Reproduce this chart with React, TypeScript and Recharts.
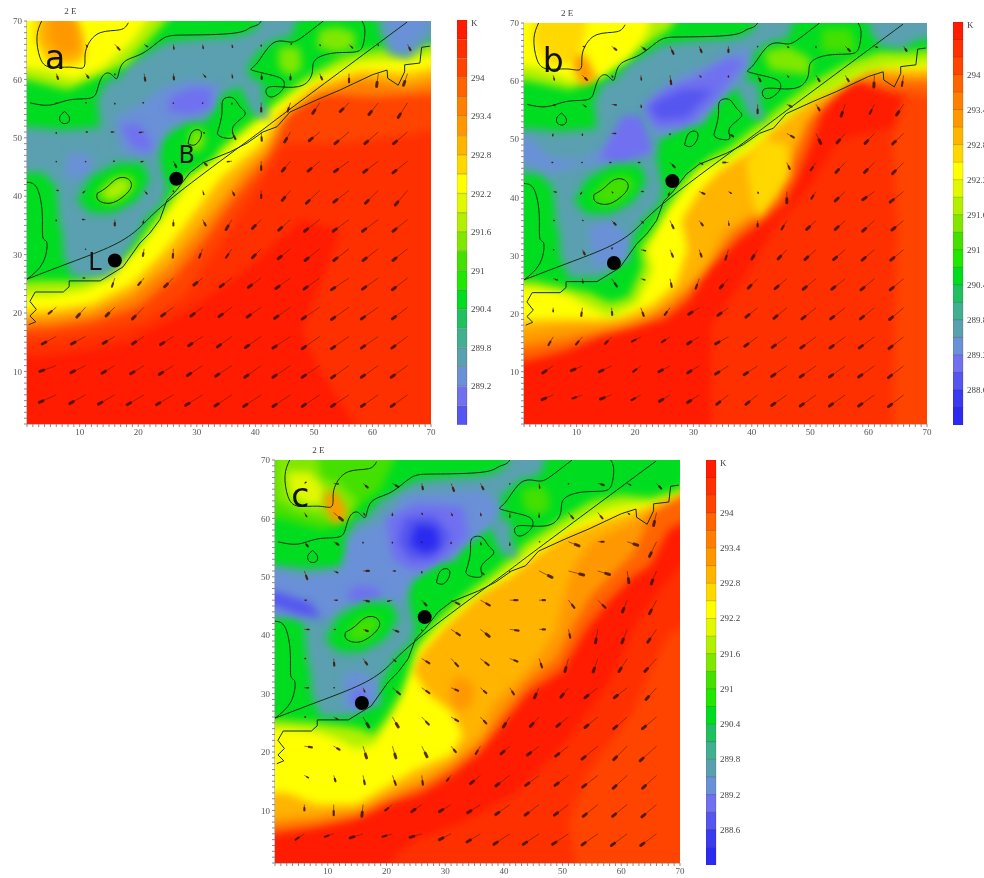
import React from "react";
import {
  BarChart,
  Bar,
  Cell,
  Curve,
  ReferenceLine,
  Scatter,
  ScatterChart,
  XAxis,
  YAxis,
} from "recharts";

type Pt = number[];
type Layer = { t: number; pts: Pt[] };

// colour scale, top band first (K)
const bandValues = [294.6, 294.3, 294, 293.7, 293.4, 293.1, 292.8, 292.5, 292.2, 291.9, 291.6, 291.3, 291, 290.7, 290.4, 290.1, 289.8, 289.5, 289.2, 288.9, 288.6, 288.3, 288];
const bandColors = ["#ff1c00", "#ff3000", "#ff4400", "#ff6400", "#ff8000", "#ff9800", "#ffb400", "#ffd800", "#ffff00", "#e0f800", "#b0f000", "#80e800", "#44e000", "#20e800", "#00dd20", "#20c060", "#40b090", "#5aa0b0", "#6a90d8", "#7070f0", "#5555f0", "#3a3af0", "#2a2af0"];
const legendLabels = ["294", "293.4", "292.8", "292.2", "291.6", "291", "290.4", "289.8", "289.2", "288.6"];
const axisLabels = [10, 20, 30, 40, 50, 60, 70];
const unitTicks = Array.from({ length: 70 }, (_, i) => i + 1);

// wind grid, tails every 5 units
const gridX = [6, 11, 16, 21, 26, 31, 36, 41, 46, 51, 56, 61, 66];
const gridY = [66, 61, 56, 51, 46, 41, 36, 31, 26, 21, 16, 11, 6];

const windA = [
  [[0, 0], [0.3, -0.4], [0.8, -0.9], [0.6, -0.4], [0.1, -0.8], [0.1, -0.7], [0.1, -0.5], [0, -0.3], [0.2, 0.1], [0.1, -0.2], [0.6, -0.6], [0, -0.2], [0.5, -1]],
  [[0.3, -0.9], [0.5, -0.7], [0, -0.2], [0.2, -1.2], [0.1, -1], [0.5, -0.6], [0.1, -0.7], [0.1, -0.9], [0, -1], [0.4, -1], [0, -1.5], [-0.3, -2.2], [-0.7, -2]],
  [[0, -0.1], [0.1, 0], [0, -0.2], [-0.2, 0], [0, -0.1], [0, -0.1], [0, -0.2], [0, -1.5], [-0.5, -1.5], [-1.2, -1.8], [-1.5, -1.5], [-1.6, -2], [-1.6, -2.5]],
  [[0, -0.2], [0.3, 0], [-0.6, 0], [-0.8, -0.1], [0, 0], [0.3, -0.2], [0.6, -1.2], [0.1, -1.5], [-1, -1.7], [-1.8, -1.5], [-2.4, -2], [-2.3, -2], [-2.4, -2]],
  [[0, -0.1], [0, -0.1], [-0.2, 0], [-0.5, -0.1], [0.5, -1], [0.7, -0.7], [-0.8, -0.1], [0, -1.5], [-1.4, -1.7], [-2, -1.7], [-2.5, -1.8], [-2.5, -1.9], [-2.5, -2]],
  [[0.3, 0], [-0.4, -0.4], [0, 0], [0.5, -0.6], [0, -0.2], [0.2, -0.7], [0.4, -0.8], [0, -1.3], [-1.4, -1.7], [-2.3, -2.2], [-2.6, -2], [-2.2, -2.2], [-2.1, -2.5]],
  [[0, -0.2], [-0.5, 0], [0, -1], [-0.2, -0.6], [0, -1], [0.5, -1], [-1, -1.7], [-1.5, -1.5], [-2, -1.8], [-2.6, -2], [-2.7, -2], [-2.7, -2], [-2.5, -2]],
  [[0, 0], [0, -0.1], [0, 0], [-0.2, -1.2], [-0.1, -1.5], [-0.6, -1.5], [-1, -1.5], [-1.5, -1.5], [-2.1, -1.7], [-2.5, -2], [-2.6, -2], [-2.6, -2], [-2.5, -2]],
  [[0, 0], [-0.4, 0], [-0.5, -1.5], [-1, -1.2], [-1.5, -1.5], [-1.5, -1.2], [-2, -1.5], [-2.2, -1.6], [-2.5, -1.8], [-2.7, -1.9], [-3, -2], [-2.7, -1.9], [-2.6, -2]],
  [[-1.3, -1.1], [-1.5, -1.7], [-1.5, -1.5], [-2, -2], [-2, -1.5], [-2, -1.5], [-2.2, -1.6], [-2.4, -1.7], [-2.7, -1.9], [-3, -2], [-3, -2.1], [-2.9, -2], [-2.6, -2]],
  [[-2.4, -1.3], [-2.4, -1.3], [-2, -1.2], [-2, -1.3], [-2.2, -1.4], [-2.4, -1.6], [-2.5, -1.8], [-2.7, -1.9], [-3, -2], [-3, -2.1], [-3, -2.1], [-2.9, -2], [-2.7, -2]],
  [[-2.8, -1], [-2.5, -1.2], [-2.2, -1.3], [-2.3, -1.4], [-2.4, -1.5], [-2.6, -1.7], [-2.8, -1.8], [-2.8, -2], [-3, -2], [-3, -2], [-3, -2.1], [-2.9, -2], [-2.8, -2]],
  [[-2.9, -1.3], [-2.7, -1.5], [-2.8, -1.6], [-2.9, -1.7], [-2.9, -1.7], [-2.9, -1.8], [-2.9, -1.9], [-3, -2], [-3, -2], [-3, -2], [-3, -2], [-2.9, -2], [-2.8, -2]],
];

const windB = [
  [[0, 0], [0.4, -0.1], [0.8, -0.6], [0.8, -0.6], [0.6, -1.3], [0.4, -1], [0, -1], [0, -0.1], [0.3, -0.2], [0, -0.2], [0.8, -0.8], [0.5, -0.2], [0.5, -0.8]],
  [[0.2, -0.8], [0.8, -0.8], [0.2, -0.3], [0.1, -0.8], [0.2, -1.5], [0.3, -0.3], [0, -0.3], [0.5, -1], [0.3, -0.3], [0.6, -1], [0.6, -1], [-0.1, -2], [-0.3, -1.8]],
  [[0.3, -0.2], [0.6, -0.4], [0.8, -0.1], [0.1, -0.5], [0, 0], [0, 0], [0, 0], [0, -1.5], [0.8, -0.4], [0.6, -1], [-0.7, -2], [-0.8, -1.6], [-1.2, -1.8]],
  [[-0.1, -0.4], [0, -0.3], [0.7, 0], [0, 0], [0, -0.2], [0, 0], [0.8, -0.5], [0, 0], [1.2, -0.7], [0.8, -1.7], [-1.4, -1.6], [-1.6, -1.7], [-1.9, -1.8]],
  [[-0.2, 0], [-0.1, 0], [-0.3, 0], [-0.4, 0], [0.8, -0.8], [0.6, -0.3], [-0.9, 0], [0, 0], [0.5, -1.1], [-0.9, -1.3], [-1.6, -1.7], [-1.7, -1.7], [-1.9, -1.9]],
  [[0.5, -0.1], [-0.3, -0.4], [0.2, -0.2], [0.4, 0], [-0.3, -0.6], [0.9, -0.4], [0.5, -0.3], [0.1, -0.3], [0, -1.9], [-0.8, -1.2], [-1.7, -1.6], [-2, -1.4], [-2.3, -1.8]],
  [[0.2, 0], [0.1, 0], [0.7, -0.7], [0.4, -0.4], [0.6, -1.3], [0.6, -0.8], [0.1, -0.8], [0, -1], [-0.9, -1.5], [-1.6, -1.5], [-1.7, -1.5], [-2, -1.8], [-2, -1.6]],
  [[0.1, 0], [0.4, -0.8], [0.1, 0.3], [0.8, -0.2], [0.5, -1.2], [0.4, -1.2], [-0.5, -1.7], [-1, -1.6], [-1.5, -1.6], [-1.9, -1.7], [-2, -1.7], [-2.1, -1.8], [-2.2, -1.8]],
  [[0.7, -0.2], [0.1, -0.7], [0.9, -1.3], [0.7, -0.2], [0.3, -1.4], [-0.6, -1.7], [-1.4, -1.6], [-1.6, -1.6], [-2, -1.7], [-2.2, -1.8], [-2.3, -1.8], [-2.3, -1.9], [-2.3, -1.9]],
  [[0, -0.7], [-0.2, -1.4], [0.1, -1.2], [0.5, -1.4], [-0.9, -1.2], [-1.8, -1.1], [-1.8, -1.3], [-2, -1.6], [-2.2, -1.8], [-2.4, -1.9], [-2.5, -1.9], [-2.4, -1.9], [-2.4, -2]],
  [[-0.8, -1.4], [-1.1, -1.3], [-1.1, -1.2], [-1.5, -0.8], [-1.4, -0.9], [-2, -1.2], [-2.2, -1.2], [-2.2, -1.6], [-2.5, -1.8], [-2.6, -1.9], [-2.6, -1.9], [-2.6, -1.9], [-2.5, -2]],
  [[-1.8, -1.2], [-1.9, -0.8], [-2.1, -1], [-1.3, -1], [-1.9, -1], [-2, -1.2], [-2.2, -1.4], [-2.3, -1.5], [-2.6, -1.8], [-2.7, -1.9], [-2.7, -1.9], [-2.7, -1.9], [-2.6, -2]],
  [[-1.9, -0.8], [-1.7, -0.6], [-1.9, -0.7], [-1.6, -0.9], [-1.8, -1.1], [-2, -1.3], [-2, -1.6], [-2, -1.6], [-2.6, -1.8], [-2.7, -1.9], [-2.7, -1.9], [-2.7, -1.9], [-2.6, -2]],
];

const windC = [
  [[0.3, 0.2], [0.8, -0.1], [0.8, -0.7], [1, -0.6], [0.2, -1], [0.5, -1.3], [0.5, -1], [0, -0.1], [0.1, -0.8], [0, -0.1], [1, -0.3], [0.6, -0.3], [0.8, -0.9]],
  [[0.4, -0.7], [1.5, -1.3], [0.3, -0.4], [0, -0.5], [0.1, -0.3], [0.2, -0.5], [0.1, -0.5], [0, -0.8], [0, -0.8], [0.8, -1], [0.8, -1], [0.4, -0.3], [-0.5, -2.2]],
  [[0.6, -0.8], [0.8, -0.5], [0, -0.2], [0, -0.2], [0, -0.1], [0, -0.3], [0.1, -0.5], [0, -0.6], [0.1, 0], [1.8, -0.7], [1, 0], [1.8, -0.6], [-1.2, -2.5]],
  [[0.5, -1.4], [0.7, -0.3], [1, 0], [0.5, 0], [0, -0.3], [0, 0], [0.6, -0.6], [0, -0.1], [2.2, -1.1], [2.6, -0.7], [2, -0.6], [0.3, -2], [-0.9, -2.2]],
  [[0.3, 0], [0.6, 0], [1, -0.2], [-0.8, -0.2], [0.8, -0.9], [1.4, -0.7], [1.6, -0.9], [1.3, 0], [1, 0], [1, -1.3], [1.3, -1.3], [-0.8, -2], [-1.2, -2.3]],
  [[0.8, 0], [0.3, 0], [0.8, -0.3], [1, -0.4], [0, -0.2], [1.5, -1], [1.5, -1.2], [1.5, -0.2], [1, 0], [0.3, -1.4], [-0.4, -2.3], [-0.9, -2.3], [-1.5, -2.2]],
  [[0.2, 0], [0.1, -1.2], [0.7, -1], [0.6, -0.5], [1.3, -0.8], [1.2, -1.3], [1.4, -1.1], [1.3, -0.5], [0.5, -1.5], [-0.6, -2.2], [-0.8, -2.3], [-1.4, -2.2], [-2, -2.2]],
  [[0.7, 0], [0.1, 0], [0.3, -0.7], [1.3, -1.1], [1.3, -0.9], [1.2, -0.5], [1, -0.9], [0.7, -1.1], [-0.8, -1.7], [-1.3, -1.6], [-2.2, -1.7], [-2.2, -1.7], [-1.8, -2]],
  [[0.2, 0], [0.7, -0.4], [1, -1.7], [1, -1.7], [1.2, -1.3], [1.2, -0.7], [1, -1.1], [-1.1, -1.7], [-1.5, -1.6], [-2, -1.6], [-2.2, -1.8], [-2.3, -2], [-2.4, -2]],
  [[1.3, -0.2], [1, -0.6], [0.6, -2], [0.6, -2], [0.9, -1.8], [0.8, -1], [-0.8, -1.3], [-1.5, -1.3], [-2, -1.5], [-2.2, -1.7], [-2.7, -2.2], [-2.3, -2.3], [-2.8, -2.5]],
  [[0.7, -0.4], [0.3, -1], [0.3, -1.5], [0.6, -1.6], [0.2, -1.6], [-0.7, -0.9], [-1.7, -1.4], [-2.4, -1.8], [-2.3, -1.7], [-2.3, -1.7], [-2.6, -2], [-2.4, -2.2], [-2.4, -2.2]],
  [[0, -1], [0, -1.8], [-0.2, -2], [-1.2, -1], [-1.7, -1.2], [-2, -1.2], [-2.2, -1.4], [-2.4, -1.7], [-2.4, -1.8], [-2.4, -1.8], [-2.5, -2], [-2.5, -2], [-2.5, -2.1]],
  [[-1.5, -1], [-1.5, -0.5], [-2.2, -0.7], [-1.7, -0.5], [-2, -0.6], [-2, -1], [-2.3, -1.4], [-2.7, -1.8], [-2.7, -1.8], [-2.7, -1.8], [-2.7, -1.9], [-2.7, -2], [-2.7, -2]],
];

// land and lake outlines, same in all three panels
const outlines: Pt[][] = [
  [[1, 25.8], [8.3, 28.6], [15.7, 31.6], [20.3, 34.7], [26, 39.9], [39, 49.7], [45.9, 54.9], [65.9, 69.8]],
  [[1.3, 18], [2.5, 18.5], [1.5, 19.5], [2.6, 20.6], [1.5, 22], [2.4, 23.6], [7.2, 23.6], [8.2, 24.5], [8.2, 25.5], [13.5, 25.5], [17.4, 27.9], [20.3, 32], [22, 33.7], [23.7, 36], [24.9, 39.3], [26.5, 41], [28.8, 44], [31, 45.7], [35.7, 47.6], [38.6, 49.1], [41.3, 51], [43.7, 51.9], [45.9, 54.4], [50.5, 56.5], [54.5, 58.2], [60, 60.8], [62.5, 61.6], [62.6, 60.2], [64.4, 59], [65.5, 61.3], [65.5, 62.5], [68.1, 62.8], [68.4, 65.5], [69.8, 65.7]],
  [[1.5, 56], [4.9, 55.6], [8.3, 56.5], [11.8, 56.8], [13, 58.2], [13.8, 60.4], [15.2, 61], [16.4, 60.2], [17.4, 62.8], [20.8, 64.5], [24.2, 67], [28.3, 67.6], [36.2, 67.9], [39, 68.8], [40.3, 69.3], [41, 70]],
  [[3.5, 70], [2.7, 67.3], [3.2, 63.8], [4.9, 62.1], [8.3, 62.1], [10.6, 62], [10.9, 63.8], [11.4, 65.9], [13.5, 68], [16.9, 68.5], [18.3, 69.7]],
  [[7.4, 54.5], [8.2, 53.6], [8, 52.6], [6.9, 52.6], [6.6, 53.6], [7.4, 54.5]],
  [[13, 40.5], [14.7, 41.6], [16.4, 43], [18.2, 43], [18.8, 41.6], [17.4, 39.9], [15.2, 38.8], [13.2, 39.3], [13, 40.5]],
  [[28.5, 49], [29.2, 51], [30.5, 51.3], [30.7, 50.1], [29.7, 48.8], [28.5, 49]],
  [[33.5, 50.8], [34.3, 54.2], [34.5, 56.5], [36.2, 56.8], [37.4, 55.3], [38.2, 53.9], [36.2, 51.9], [36.2, 50.1], [34.3, 50.1], [33.5, 50.8]],
  [[51.6, 70], [48.1, 67.3], [45.9, 66.4], [43, 66.2], [40.3, 62.8], [39.4, 61.6], [42.5, 60.8], [44.7, 59.9], [44.6, 58.2], [42.5, 57], [42, 58.5], [44.7, 58.7], [48.1, 59], [49.7, 61.1], [50.2, 63.3], [53.3, 64.5], [57, 64.7], [58.4, 65.9], [58.7, 68.5], [58.2, 70]],
  [[1, 42.4], [2.7, 41.4], [3.6, 37.1], [3.7, 33], [4.4, 32], [3.7, 28.6], [1, 25.8]],
];

// cool basin shared by the panels
const basin: Pt[] = [[-6, 52], [2, 51.8], [7.2, 51.3], [13.5, 51.8], [13, 56.5], [14.7, 60], [16.4, 60], [18.6, 62.8], [21.5, 64.5], [24.9, 66.4], [30.5, 67], [36.2, 67.3], [39, 68], [40.8, 69.5], [41, 76], [47, 76], [47, 69.6], [46, 67.3], [43, 66.7], [40.3, 64.5], [38.6, 62], [39, 60.4], [41.3, 59.4], [41.3, 56.5], [42.5, 53], [39.5, 54], [37.4, 58.7], [33.5, 57], [31.7, 52.5], [28.3, 52.5], [24.2, 50], [23.7, 46.7], [24.2, 44.5], [24.9, 41.6], [24.2, 38.8], [21.5, 36.4], [19.1, 32], [15.7, 26.8], [13.5, 26.1], [8.7, 26.1], [7.2, 30], [7, 34.2], [6.6, 34.7], [6, 41.6], [3.7, 44], [1.5, 44], [-6, 44]];
const greenIsland: Pt[] = [[9.5, 39.3], [11.8, 43.3], [16.4, 45.7], [20.8, 45.7], [22, 42.8], [19.8, 39.3], [15.7, 37.1], [11.8, 37.1]];
const islandCore: Pt[] = [[13.3, 40.5], [16.4, 43], [18.5, 42.8], [18.5, 41], [15.5, 39.2]];

const layersA: Layer[] = [
  { t: 294.6, pts: [[-6, -6], [76, -6], [76, 80], [-6, 80]] },
  { t: 294.3, pts: [[-6, 12], [8, 13], [18, 15], [28, 20], [38, 27], [48, 36], [54.5, 34], [48, 17], [50.5, 11], [57, 1], [60, -6], [76, -6], [76, 80], [-6, 80]] },
  { t: 294, pts: [[-6, 15], [5, 15.5], [12, 16.5], [21, 18.5], [28, 23], [34, 32], [40, 41], [45, 49], [55, 49], [76, 52], [76, 80], [-6, 80]] },
  { t: 293.4, pts: [[-6, 17], [5, 17.5], [12, 18.5], [20, 21], [26, 26], [31, 32], [36, 39], [41, 45], [44, 50], [46, 55], [52, 57.5], [60, 57], [76, 58], [76, 80], [-6, 80]] },
  { t: 292.8, pts: [[-6, 18.5], [5, 19], [12, 20], [19, 23], [25, 28], [30, 34], [34, 39], [38, 44], [42, 48], [44, 53], [50, 57.5], [58, 60], [66, 59], [76, 61], [76, 80], [-6, 80]] },
  { t: 292.2, pts: [[-6, 20], [5, 20.5], [12, 21.5], [19, 25], [24, 30], [28, 35], [31, 39], [34, 43], [38, 46.5], [41, 49], [44, 54], [50, 59], [58, 61.5], [66, 61], [76, 63], [76, 80], [-6, 80]] },
  { t: 291.6, pts: [[-6, 23], [5, 23], [11, 24], [15, 26], [20, 31], [24, 36], [27, 40], [30, 44], [34, 47], [38, 51], [44, 56], [50, 60], [58, 63], [66, 63.5], [76, 65], [76, 80], [-6, 80]] },
  { t: 290.4, pts: [[-6, 25], [3, 25.5], [9, 25.5], [14, 27], [19, 31], [22, 35], [25, 39], [28, 43.5], [32, 46.5], [36, 50], [42, 55], [48, 60], [55, 64], [60, 65], [66, 66], [76, 67], [76, 80], [-6, 80]] },
  { t: 289.5, pts: basin },
  { t: 289.5, pts: [[61, 76], [61, 69], [62.5, 64.5], [66, 63.5], [69, 66], [76, 68], [76, 76]] },
  { t: 289.2, pts: [[62.5, 76], [62.5, 69], [63.5, 65], [66, 64.5], [68, 67], [70, 70], [70, 76]] },
  { t: 289.2, pts: [[16, 53.5], [17, 48], [21, 46.5], [23, 48], [25, 52], [29, 53.5], [33, 55], [34, 59], [29, 60], [24, 58.5], [20, 55.5]] },
  { t: 289.2, pts: [[7.5, 43], [12, 43.5], [12, 47], [8, 47.5]] },
  { t: 288.9, pts: [[25, 54.5], [25.5, 57], [29, 58.5], [32.5, 58.5], [32.5, 55], [29, 54]] },
  { t: 288.9, pts: [[17, 52], [20, 52.5], [22.5, 49], [21.5, 47.5], [19, 48.5]] },
  { t: 290.4, pts: greenIsland },
  { t: 291, pts: [[12.5, 40], [15, 43], [18.5, 44], [20, 42], [17, 39], [14.5, 38.5]] },
  { t: 291.6, pts: islandCore },
  { t: 290.4, pts: [[24.5, 44], [25.5, 49], [29, 52], [33, 51], [33, 47], [29, 44.5]] },
  { t: 291.3, pts: [[28.5, 48], [29, 51.5], [31, 51.5], [31.5, 49], [30, 47.5]] },
  { t: 291.3, pts: [[44, 62], [44, 65.5], [47.5, 65.5], [48, 62], [46, 60.5]] },
  { t: 291.3, pts: [[50.5, 65.5], [51, 68.5], [54, 69], [57, 68], [57, 65.5], [54, 64.5]] },
  { t: 291.6, pts: [[-6, 60], [1, 60], [8, 58.2], [13, 60.5], [18, 62.5], [23, 68], [30, 76], [-6, 76]] },
  { t: 292.2, pts: [[-6, 63], [4, 61.5], [9, 60], [14, 62], [19, 66.5], [23, 72], [-6, 76]] },
  { t: 292.8, pts: [[3, 72], [2.5, 67], [4.5, 63], [9, 62.5], [11, 64], [10.5, 68], [8, 72]] },
  { t: 293.1, pts: [[5, 72], [4.5, 67], [7, 64], [10, 65], [9.5, 70]] },
];

const layersB: Layer[] = [
  { t: 294.6, pts: [[-6, -6], [76, -6], [76, 80], [-6, 80]] },
  { t: 294.3, pts: [[33, -6], [33, 18], [38, 25], [44, 35], [50, 42], [55, 50], [76, 55], [76, -6]] },
  { t: 294, pts: [[64, -6], [64.5, 20], [65, 35], [64, 50], [66, 58], [76, 60], [76, -6]] },
  { t: 293.7, pts: [[-6, 11], [2, 12], [8, 13.5], [14, 16], [20, 17.5], [25, 19], [29, 22], [33, 28], [38, 33], [42, 36], [45.5, 39], [47.6, 43], [50, 49], [52, 54.5], [55, 58], [58, 60], [64, 58], [76, 57], [76, 80], [-6, 80]] },
  { t: 293.1, pts: [[-6, 13.5], [2, 14.5], [8, 15.5], [14, 17], [20, 18.5], [25, 20.5], [29, 24], [33, 29], [37, 34], [41, 37], [44, 40], [46, 44], [48, 49], [50, 54], [53, 57], [57, 60.5], [64, 60], [76, 60], [76, 80], [-6, 80]] },
  { t: 292.8, pts: [[-6, 15.5], [2.5, 17], [7, 17.7], [14, 18], [17, 18.4], [22.5, 20], [26.5, 22.8], [31, 27], [33, 30], [35, 34], [41, 38], [44, 41], [46, 46], [49, 53], [52, 56.5], [56, 60], [60, 62], [66, 61], [76, 61], [76, 80], [-6, 80]] },
  { t: 292.5, pts: [[41, 36], [44, 40], [46.5, 44], [46, 49], [42, 50], [39, 46], [40, 40]] },
  { t: 292.2, pts: [[-6, 18], [3, 18.9], [8, 19], [14, 19], [18, 19.5], [23, 21.5], [27, 25], [29, 31], [28, 36], [31, 41], [35, 45], [40, 48], [44, 52], [50, 57], [56, 60], [60, 62.5], [66, 62], [76, 62], [76, 80], [-6, 80]] },
  { t: 291.6, pts: [[-6, 24.5], [2, 24.5], [8.3, 23.5], [11, 21.8], [15.7, 19.4], [20.3, 21.8], [23, 27.5], [22, 31], [23.7, 34.4], [26, 38.3], [28.8, 41.8], [31, 44.7], [35.7, 46.4], [39.6, 49.3], [41.8, 51], [46.4, 54.5], [51, 57.3], [55, 59], [58.9, 61.4], [63, 62.5], [76, 63.5], [76, 80], [-6, 80]] },
  { t: 290.4, pts: [[-6, 26], [3, 25.5], [8.3, 24.4], [12.3, 23.5], [15.7, 21.8], [19, 22.8], [21.3, 28], [20.8, 31.4], [23, 34.4], [25, 38], [28, 42.5], [31, 46], [36, 48.5], [41, 52.5], [46, 56.5], [50, 59.5], [56, 63], [62, 65], [68, 65], [76, 66], [76, 80], [-6, 80]] },
  { t: 289.5, pts: basin },
  { t: 289.5, pts: [[61, 76], [60, 69], [62, 66], [66, 65.5], [68, 67], [76, 68], [76, 76]] },
  { t: 289.2, pts: [[-6, 50.5], [1.7, 50.4], [5.4, 46.9], [11, 46.4], [15.7, 49.3], [17.9, 53.3], [20.8, 52.8], [22.5, 48.1], [16.9, 45.9], [11, 45.6], [5.4, 44.2], [1.7, 45.9], [-6, 45.9]] },
  { t: 288.9, pts: [[14, 47], [15.7, 50], [17.9, 54], [21, 54], [23, 48], [17, 45.5]] },
  { t: 289.2, pts: [[21.5, 56], [23.5, 50.5], [30, 52], [34, 56], [40, 63], [39, 66], [33, 63], [27, 60.5]] },
  { t: 288.9, pts: [[21.5, 55.5], [23.5, 52], [29, 52.5], [33.5, 56.5], [39, 63.5], [36, 64], [30, 60.5], [25, 58.5]] },
  { t: 288.6, pts: [[22.5, 55.5], [24.2, 53.3], [28.8, 53.8], [33.3, 58.5], [28.2, 58.5], [24.2, 56.7]] },
  { t: 289.2, pts: [[13, 28], [19, 29], [19, 33], [16, 36], [12, 35]] },
  { t: 290.4, pts: greenIsland },
  { t: 291, pts: [[12.5, 40], [15, 43], [18.5, 44], [20, 42], [17, 39], [14.5, 38.5]] },
  { t: 290.4, pts: [[25, 43], [26, 49], [30, 52], [33, 50], [32, 47], [28, 44]] },
  { t: 291.3, pts: [[43, 62], [42, 65], [46, 66], [50, 64], [50, 61]] },
  { t: 291, pts: [[52, 65], [52, 69], [57, 69], [58, 65]] },
  { t: 291.6, pts: [[-6, 61], [2, 60], [9, 58.5], [14, 61], [20, 65], [26, 69], [30, 76], [-6, 76]] },
  { t: 292.2, pts: [[-6, 64], [4, 62], [9, 60], [14, 60.5], [19, 64], [22, 68], [24, 76], [-6, 76]] },
  { t: 292.5, pts: [[3, 72], [2.5, 67], [5, 63], [9, 63], [11, 66], [12, 72]] },
  { t: 293.1, pts: [[9.5, 64.5], [11.5, 64.5], [13.5, 60.5], [11, 59], [9.5, 62]] },
];

const layersC: Layer[] = [
  { t: 294.6, pts: [[-6, -6], [76, -6], [76, 80], [-6, 80]] },
  { t: 294.3, pts: [[20, -6], [21, 2], [25, 5], [33, 8], [42, 13], [50, 21], [58, 32], [63, 43], [70, 52], [76, 55], [76, -6]] },
  { t: 294, pts: [[53.5, -6], [51, 8], [54, 16], [62, 27], [65, 34], [68, 40], [76, 45], [76, -6]] },
  { t: 293.7, pts: [[-6, 6], [1.5, 6], [8, 7], [15, 8.5], [20, 11], [26, 13], [31, 16], [36, 20], [40, 25], [44, 30], [50, 34], [54, 41], [58, 46], [62, 50], [65, 52], [68, 58], [76, 62], [76, 80], [-6, 80]] },
  { t: 293.1, pts: [[-6, 7], [1.5, 7.5], [8, 8.2], [15, 9.5], [20, 12], [26, 14.5], [31, 17.5], [36, 21.5], [40, 27], [44, 32], [49, 36], [52, 42], [55, 47], [59, 51], [62, 54], [64, 58], [65, 62], [76, 66], [76, 80], [-6, 80]] },
  { t: 292.8, pts: [[-6, 8.5], [3, 9], [8, 9.5], [15, 10.5], [20, 13], [26, 15.5], [31, 18.5], [36, 23], [38, 28], [43, 33], [46, 36.5], [49, 41], [50, 46], [52, 52], [55, 56], [60, 58.5], [64, 60.5], [76, 67], [76, 80], [-6, 80]] },
  { t: 293.1, pts: [[31, 28], [31, 32], [33, 33], [35, 31], [34.5, 28], [33, 27]] },
  { t: 292.2, pts: [[-6, 13], [3, 13], [8, 11], [15, 11], [20, 14], [25, 17], [31, 19.5], [33, 23], [31, 27], [27, 30], [24.5, 34], [26, 37], [30, 41.5], [36, 47], [41, 50], [46, 54], [51, 57.5], [57.6, 59.8], [63.2, 61.5], [76, 68], [76, 80], [-6, 80]] },
  { t: 291.6, pts: [[-6, 24], [3, 24], [8, 23.5], [12, 22], [15, 20.5], [18, 21.5], [20, 25], [22.3, 29], [23, 33], [25, 37.5], [29, 41.5], [34, 46], [40, 50.5], [46, 55.5], [52, 59], [58, 61.5], [63.5, 62.5], [68, 64], [76, 68.5], [76, 80], [-6, 80]] },
  { t: 290.4, pts: [[-6, 26], [8, 25], [14, 24.3], [15.5, 24], [17.7, 23], [20, 26], [22.3, 30], [23.5, 33], [25, 38], [28, 42], [32, 46], [38, 50.5], [44, 56], [50, 60], [55, 63], [60, 64], [65, 63.5], [70, 65], [76, 70], [76, 80], [-6, 80]] },
  { t: 289.5, pts: basin },
  { t: 289.2, pts: [[-6, 53], [6, 50], [12, 51], [14, 57], [20, 60], [23, 64], [36, 65], [40, 62], [36, 57], [30, 53], [24, 49], [22, 45], [14, 46], [10, 43], [-6, 43]] },
  { t: 288.9, pts: [[21, 53], [20, 60], [25, 62.5], [33, 62], [34, 57], [30, 53], [25, 51]] },
  { t: 288.6, pts: [[-6, 48], [1, 47.5], [7, 45.5], [9, 43], [5, 43.5], [1, 45], [-6, 45]] },
  { t: 288.9, pts: [[13, 47], [15, 48.5], [19, 48], [18.5, 46], [14.5, 45.5]] },
  { t: 288.6, pts: [[22, 56], [23, 60], [28, 60.5], [31, 57], [28, 53], [24, 53]] },
  { t: 288, pts: [[24, 55.5], [25, 59], [28.5, 58.5], [29, 55], [26.5, 54]] },
  { t: 289.2, pts: [[13, 27.5], [19, 28], [18.5, 32], [15, 34], [12.5, 33]] },
  { t: 288.9, pts: [[14, 28], [17, 27.5], [16.5, 30], [14.5, 31]] },
  { t: 290.4, pts: greenIsland },
  { t: 291, pts: [[13, 40], [15, 42.5], [18, 43.5], [19, 42], [17, 39.5], [14.5, 38.8]] },
  { t: 290.4, pts: [[25, 43], [26, 49], [30, 52], [33, 50], [32, 47], [28, 44]] },
  { t: 291, pts: [[43.5, 61.5], [43, 65], [47, 65.5], [48, 62], [46, 60.5]] },
  { t: 291, pts: [[-6, 60], [2, 60], [9, 58], [12, 59], [15, 62], [19, 65], [24, 76], [-6, 76]] },
  { t: 291.3, pts: [[1, 76], [1, 63], [5, 61], [9, 60], [13, 59.5], [15, 63], [12, 66], [9, 67], [7, 76]] },
  { t: 291.9, pts: [[3, 68], [3.5, 64], [6, 62.5], [9, 62], [9.5, 65], [7, 68]] },
  { t: 293.1, pts: [[9.5, 64.5], [11.5, 64.5], [13.5, 60.5], [11, 59], [9.5, 62]] },
];

const sitesA = [{ x: 26.5, y: 43 }, { x: 16, y: 29 }];
const sitesB = [{ x: 26.4, y: 42.8 }, { x: 16.4, y: 28.7 }];
const sitesC = [{ x: 26.5, y: 43.1 }, { x: 15.8, y: 28.4 }];

const notesA = [{ x: 5.8, y: 63.8, name: "a" }, { x: 28.3, y: 47, name: "B" }, { x: 12.6, y: 28.7, name: "L" }];
const notesB = [{ x: 6, y: 63.6, name: "b" }];
const notesC = [{ x: 5.3, y: 64, name: "c" }];

const UNIT = 5.86;
const tickFont = { fontSize: 9, fontFamily: "Liberation Serif", fill: "#555" };

const colorOf = (t: number) => bandColors[bandValues.indexOf(t)];

const windPoints = (wind: number[][][]) =>
  wind.flatMap((row, j) =>
    row.map((w, i) => ({ x: gridX[i], y: gridY[j], u: w[0], v: w[1] }))
  );

const Arrow = ({ cx, cy, payload }: any) => {
  const dx = payload.u * UNIT;
  const dy = -payload.v * UNIT;
  const len = Math.hypot(dx, dy);
  if (len < 0.5) return null;
  const head = Math.min(4, len * 0.4) / len;
  const tipX = cx + dx;
  const tipY = cy + dy;
  const thick = len < 5 ? 1.5 : len < 11 ? 2.2 : 3;
  return (
    <g>
      <line x1={cx} y1={cy} x2={tipX} y2={tipY} stroke="#6a1e00" strokeOpacity={0.65} strokeWidth={1} />
      <line x1={tipX - dx * head} y1={tipY - dy * head} x2={tipX} y2={tipY} stroke="#3a1000" strokeOpacity={0.8} strokeWidth={thick} strokeLinecap="round" />
    </g>
  );
};

const Site = ({ cx, cy }: any) => <circle cx={cx} cy={cy} r={7} fill="#000" />;

const Note = ({ cx, cy, payload }: any) => (
  <text x={cx} y={cy} textAnchor="middle" dominantBaseline="central" fontFamily="DejaVu Sans" fontSize={payload.name === payload.name.toLowerCase() ? 33 : 24} fill="#111">
    {payload.name}
  </text>
);

const Hidden = () => null;

const toPoints = (pts: Pt[]) => pts.map((p) => ({ x: p[0], y: p[1] }));

const Panel = ({ left, top, plotW, plotH, layers, wind, sites, notes }: any) => {
  const fmt = (v: number) => (axisLabels.includes(v) ? String(v) : "");
  return (
    <div style={{ position: "absolute", left: left - 27, top: top - 21 }}>
      <ScatterChart width={27 + plotW + 8} height={21 + plotH + 18} margin={{ top: 21, right: 8, bottom: 0, left: 0 }}>
        <XAxis type="number" dataKey="x" xAxisId={0} domain={[1, 70]} allowDataOverflow ticks={unitTicks} interval={0} tickFormatter={fmt} tick={tickFont} tickSize={3} tickLine={{ stroke: "#888" }} axisLine={{ stroke: "#888" }} height={18} />
        <XAxis type="number" xAxisId="top" orientation="top" domain={[1, 70]} allowDataOverflow ticks={unitTicks} interval={0} tick={false} tickSize={3} tickLine={{ stroke: "#666" }} axisLine={{ stroke: "#888" }} height={0} />
        <YAxis type="number" dataKey="y" yAxisId={0} domain={[1, 70]} allowDataOverflow ticks={unitTicks} interval={0} tickFormatter={fmt} tick={tickFont} tickSize={3} tickLine={{ stroke: "#888" }} axisLine={{ stroke: "#888" }} width={27} />
        <YAxis type="number" yAxisId="right" orientation="right" domain={[1, 70]} allowDataOverflow ticks={unitTicks} interval={0} tick={false} tickSize={3} tickLine={{ stroke: "#666" }} axisLine={{ stroke: "#888" }} width={0} />
        {layers.map((layer: Layer, i: number) => (
          <Scatter
            key={i}
            data={toPoints(layer.pts)}
            isAnimationActive={false}
            shape={Hidden}
            line={(p: any) => (
              <Curve points={p.points} type="linearClosed" fill={colorOf(layer.t)} stroke="none" style={{ filter: "blur(4.5px)" }} />
            )}
          />
        ))}
        {outlines.map((pts, i) => (
          <Scatter key={i} data={toPoints(pts)} isAnimationActive={false} shape={Hidden} lineJointType={i === 1 ? "linear" : "natural"} line={{ stroke: "#123010", strokeWidth: 1, fill: "none" }} />
        ))}
        <ReferenceLine segment={[{ x: 8.4, y: 1 }, { x: 8.4, y: 25 }]} stroke="#123010" strokeDasharray="1 2" />
        <ReferenceLine x={8.4} segment={[{ x: 8.4, y: 25 }, { x: 8.4, y: 70 }]} stroke="#2a5a40" label={{ value: "2 E", position: "top", fontSize: 9, fontFamily: "Liberation Serif", fill: "#444", dy: -2 }} />
        <Scatter data={windPoints(wind)} isAnimationActive={false} shape={Arrow} />
        <Scatter data={sites} isAnimationActive={false} shape={Site} />
        <Scatter data={notes} isAnimationActive={false} shape={Note} />
      </ScatterChart>
    </div>
  );
};

const ColorBar = ({ left, top, height, lowest }: any) => {
  const rows = bandValues
    .map((v, i) => ({ band: v, size: 1, color: bandColors[i] }))
    .filter((r) => r.band >= lowest);
  const bandH = height / rows.length;
  const BandTick = ({ x, y, payload }: any) => {
    const label = String(payload.value);
    if (!legendLabels.includes(label) || payload.value === lowest) return null;
    return (
      <text x={x - 4} y={y + bandH / 2 + 3} fontSize={9} fontFamily="Liberation Serif" fill="#444">
        {label}
      </text>
    );
  };
  return (
    <div style={{ position: "absolute", left, top }}>
      <BarChart width={60} height={height} data={rows} layout="vertical" barCategoryGap={0} margin={{ top: 0, right: 0, bottom: 0, left: 0 }}>
        <XAxis type="number" hide domain={[0, 1]} height={0} />
        <YAxis type="category" dataKey="band" orientation="right" width={50} axisLine={false} tickLine={false} interval={0} tick={BandTick} />
        <Bar dataKey="size" isAnimationActive={false}>
          {rows.map((r, i) => (
            <Cell key={i} fill={r.color} stroke="rgba(60,40,0,0.3)" strokeWidth={0.6} />
          ))}
        </Bar>
      </BarChart>
      <div style={{ position: "absolute", left: 14, top: -2, fontSize: 9, fontFamily: "Liberation Serif", color: "#444" }}>K</div>
    </div>
  );
};

export default function App() {
  return (
    <div style={{ position: "absolute", left: 0, top: 0, width: 984, height: 878, overflow: "hidden", background: "#fff", filter: "blur(0.4px)" }}>
      <Panel left={27} top={21} plotW={404} plotH={403} layers={layersA} wind={windA} sites={sitesA} notes={notesA} />
      <Panel left={524} top={23} plotW={403} plotH={401} layers={layersB} wind={windB} sites={sitesB} notes={notesB} />
      <Panel left={275} top={460} plotW={405} plotH={403} layers={layersC} wind={windC} sites={sitesC} notes={notesC} />
      <ColorBar left={457} top={20} height={405} lowest={288.6} />
      <ColorBar left={953} top={22} height={403} lowest={288} />
      <ColorBar left={706} top={460} height={405} lowest={288} />
    </div>
  );
}
